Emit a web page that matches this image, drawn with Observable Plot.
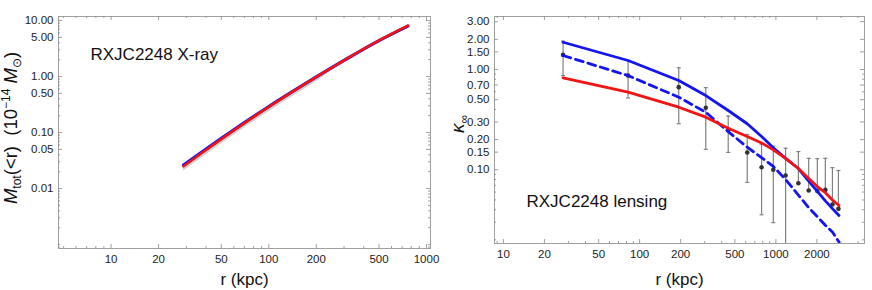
<!DOCTYPE html>
<html><head><meta charset="utf-8">
<script src="https://cdn.jsdelivr.net/npm/d3@7"></script>
<script src="https://cdn.jsdelivr.net/npm/@observablehq/plot@0.6"></script>
<style>
body{margin:0;background:#fff}
#wrap{display:flex;width:872px;height:290px;background:#fff}
#wrap svg{overflow:visible}
</style>
</head><body><div id="wrap"></div>
<script>
// ---------- Left panel: RXJC2248 X-ray ----------
const xrayR      = [28.8, 35, 50, 70, 100, 140, 200, 300, 500, 762];
const xrayRed    = [0.025, 0.0373, 0.0762, 0.147, 0.287, 0.526, 0.982, 1.95, 4.43, 8.15];
const xrayBlue   = [0.0262, 0.0388, 0.0785, 0.150, 0.292, 0.532, 0.985, 1.94, 4.38, 7.95];
const xrayBandLo = [0.0205, 0.0305, 0.0625, 0.121, 0.236, 0.432, 0.81, 1.80, 4.25, 7.9];
const xrayXTicks = [10, 20, 50, 100, 200, 500, 1000];
const xrayYTicks = [0.01, 0.05, 0.1, 0.5, 1, 5, 10];

// ---------- Right panel: RXJC2248 lensing ----------
const lensR     = [27.4, 82.2, 193.6, 305.7, 446.6, 616, 785, 957, 1178, 1462, 1740, 2014, 2306, 2600, 2877];
const lensK     = [1.40, 0.87, 0.667, 0.415, 0.248, 0.149, 0.106, 0.100, 0.0877, 0.0735, 0.0622, 0.0613, 0.063, 0.0451, 0.0408];
const lensUp    = [1.92, 1.23, 1.04, 0.66, 0.343, 0.225, 0.18, 0.172, 0.164, 0.152, 0.130, 0.129, 0.130, 0.105, 0.0984];
const lensLo    = [0.87, 0.52, 0.288, 0.16, 0.149, 0.075, 0.0356, 0.0297, 0.005, 0.0735, 0.0622, 0.0613, 0.063, 0.0451, 0.0408];
const modelR    = [27.4, 82.2, 193.6, 305.7, 446.6, 616, 785, 957, 1178, 1462, 1740, 2014, 2306, 2600, 2904];
const blueSolid = [1.87, 1.23, 0.777, 0.55, 0.39, 0.288, 0.215, 0.166, 0.130, 0.103, 0.077, 0.061, 0.049, 0.041, 0.035];
const blueDash  = [1.38, 0.87, 0.53, 0.375, 0.24, 0.168, 0.132, 0.108, 0.080, 0.056, 0.042, 0.034, 0.028, 0.024, 0.019];
const redModel  = [0.826, 0.594, 0.421, 0.335, 0.26, 0.215, 0.185, 0.158, 0.130, 0.103, 0.082, 0.068, 0.059, 0.050, 0.044];
const lensXTicks = [10, 20, 50, 100, 200, 500, 1000, 2000];
const lensYTicks = [0.1, 0.15, 0.2, 0.3, 0.5, 0.7, 1, 1.5, 2, 3];

const FONT = "'Liberation Sans', Arial, Helvetica, sans-serif";
const BLUE = "#1414f0", RED = "#f01414", FRAME = "#a0a0a0", TICK = "#888", LABEL = "#222";

function logMinor(lo, hi, majors) {
  const out = [];
  for (let e = Math.floor(Math.log10(lo)); e <= Math.ceil(Math.log10(hi)); e++)
    for (let m = 1; m < 10; m++) {
      const v = +(m * Math.pow(10, e)).toPrecision(3);
      if (v >= lo && v <= hi && !majors.some(t => Math.abs(t - v) / v < 1e-6)) out.push(v);
    }
  return out;
}

function frameTicks(xDom, yDom, xMaj, yMaj, iw, ih) {
  const xMin = logMinor(xDom[0], xDom[1], xMaj), yMin = logMinor(yDom[0], yDom[1], yMaj);
  const s = {stroke: TICK, strokeWidth: 0.8};
  return [
    Plot.ruleX(xMaj, {x: d => d, insetTop: ih - 4, ...s}),
    Plot.ruleX(xMaj, {x: d => d, insetBottom: ih - 4, ...s}),
    Plot.ruleX(xMin, {x: d => d, insetTop: ih - 2, ...s}),
    Plot.ruleX(xMin, {x: d => d, insetBottom: ih - 2, ...s}),
    Plot.ruleY(yMaj, {y: d => d, insetRight: iw - 4, ...s}),
    Plot.ruleY(yMaj, {y: d => d, insetLeft: iw - 4, ...s}),
    Plot.ruleY(yMin, {y: d => d, insetRight: iw - 2, ...s}),
    Plot.ruleY(yMin, {y: d => d, insetLeft: iw - 2, ...s})
  ];
}

function tickLabels(xMaj, yMaj) {
  return [
    Plot.text(xMaj, {x: d => d, text: d => String(d), frameAnchor: "bottom", lineAnchor: "top", dy: 6, fontSize: 11.5, fill: LABEL}),
    Plot.text(yMaj, {y: d => d, text: d => d.toFixed(2), frameAnchor: "left", textAnchor: "end", lineAnchor: "middle", dx: -5, fontSize: 11.5, fill: LABEL})
  ];
}

const capSymbol = {draw(ctx, size) { const w = Math.sqrt(size / Math.PI); ctx.moveTo(-w, 0); ctx.lineTo(w, 0); }};

// ---------- Left plot ----------
const xray = xrayR.map((r, i) => ({r, red: xrayRed[i], blue: xrayBlue[i], lo: xrayBandLo[i]}));
const L = {w: 436, h: 290, ml: 58, mr: 6, mt: 16, mb: 42};
const LxDom = [4.64, 1060], LyDom = [0.00085, 11.8];
const left = Plot.plot({
  width: L.w, height: L.h,
  marginLeft: L.ml, marginRight: L.mr, marginTop: L.mt, marginBottom: L.mb,
  style: {fontFamily: FONT, fontSize: "11.5px", color: "#222", background: "transparent", overflow: "visible"},
  x: {type: "log", domain: LxDom, axis: null},
  y: {type: "log", domain: LyDom, axis: null},
  marks: [
    Plot.areaY(xray, {x: "r", y1: "lo", y2: "red", fill: "#cfcfcf", curve: "monotone-x"}),
    Plot.line(xray, {x: "r", y: "blue", stroke: BLUE, strokeWidth: 3.2, curve: "monotone-x"}),
    Plot.line(xray, {x: "r", y: "red", stroke: RED, strokeWidth: 2.6, curve: "monotone-x"}),
    Plot.frame({stroke: FRAME}),
    ...frameTicks(LxDom, LyDom, xrayXTicks, xrayYTicks, L.w - L.ml - L.mr, L.h - L.mt - L.mb),
    ...tickLabels(xrayXTicks, xrayYTicks),
    Plot.text(["RXJC2248 X-ray"], {frameAnchor: "top-left", dx: 32, dy: 38, textAnchor: "start", lineAnchor: "middle", fontSize: 17, fill: "#111"}),
    Plot.text(["r (kpc)"], {frameAnchor: "bottom", dy: 31, lineAnchor: "middle", fontSize: 17, fill: "#111"})
  ]
});

// ---------- Right plot ----------
const lens = lensR.map((r, i) => ({r, k: lensK[i], up: lensUp[i], lo: lensLo[i]}));
const model = modelR.map((r, i) => ({r, solid: blueSolid[i], dash: blueDash[i], red: redModel[i]}));
const R = {w: 436, h: 290, ml: 58, mr: 8, mt: 16, mb: 47};
const RxDom = [8.6, 4470], RyDom = [0.0184, 3.38];
const right = Plot.plot({
  width: R.w, height: R.h,
  marginLeft: R.ml, marginRight: R.mr, marginTop: R.mt, marginBottom: R.mb,
  style: {fontFamily: FONT, fontSize: "11.5px", color: "#222", background: "transparent"},
  x: {type: "log", domain: RxDom, axis: null},
  y: {type: "log", domain: RyDom, axis: null},
  marks: [
    Plot.ruleX(lens, {x: "r", y1: "lo", y2: "up", stroke: "#808080", strokeWidth: 1.2, clip: true}),
    Plot.dot(lens, {x: "r", y: "up", symbol: capSymbol, r: 2, stroke: "#808080", strokeWidth: 1.2, clip: true}),
    Plot.dot(lens, {x: "r", y: "lo", symbol: capSymbol, r: 2, stroke: "#808080", strokeWidth: 1.2, clip: true}),
    Plot.dot(lens, {x: "r", y: "k", r: 2.3, fill: "#333", stroke: "none"}),
    Plot.line(model, {x: "r", y: "solid", stroke: BLUE, strokeWidth: 2.8}),
    Plot.line(model, {x: "r", y: "dash", stroke: BLUE, strokeWidth: 2.8, strokeDasharray: "8,5"}),
    Plot.line(model, {x: "r", y: "red", stroke: RED, strokeWidth: 2.8}),
    Plot.frame({stroke: FRAME}),
    ...frameTicks(RxDom, RyDom, lensXTicks, lensYTicks, R.w - R.ml - R.mr, R.h - R.mt - R.mb),
    ...tickLabels(lensXTicks, lensYTicks),
    Plot.text(["RXJC2248 lensing"], {frameAnchor: "top-left", dx: 32, dy: 185, textAnchor: "start", lineAnchor: "middle", fontSize: 17, fill: "#111"}),
    Plot.text(["r (kpc)"], {frameAnchor: "bottom", dy: 36, lineAnchor: "middle", fontSize: 17, fill: "#111"})
  ]
});

// ---------- Y axis labels (rich text) ----------
{
  const t = d3.select(left).append("text")
    .attr("transform", "translate(17,128) rotate(-90)")
    .attr("text-anchor", "middle").attr("font-size", 18.5).attr("fill", "#111");
  t.append("tspan").attr("font-style", "italic").text("M");
  t.append("tspan").attr("font-size", 12).attr("dy", 4).text("tot");
  t.append("tspan").attr("dy", -4).text("(<r)  (10");
  t.append("tspan").attr("font-size", 12).attr("dy", -7).text("−14");
  t.append("tspan").attr("dy", 7).text(" ");
  t.append("tspan").attr("font-style", "italic").text("M");
  t.append("tspan").attr("font-size", 12).attr("dy", 4).text("⊙");
  t.append("tspan").attr("dy", -4).text(")");
}
{
  const t = d3.select(right).append("text")
    .attr("transform", "translate(28,124) rotate(-90)")
    .attr("text-anchor", "middle").attr("font-size", 19).attr("fill", "#111");
  t.append("tspan").attr("font-style", "italic").text("κ");
  t.append("tspan").attr("font-size", 12).attr("dy", 4).text("∞");
}

document.getElementById("wrap").append(left, right);
</script>
</body></html>
